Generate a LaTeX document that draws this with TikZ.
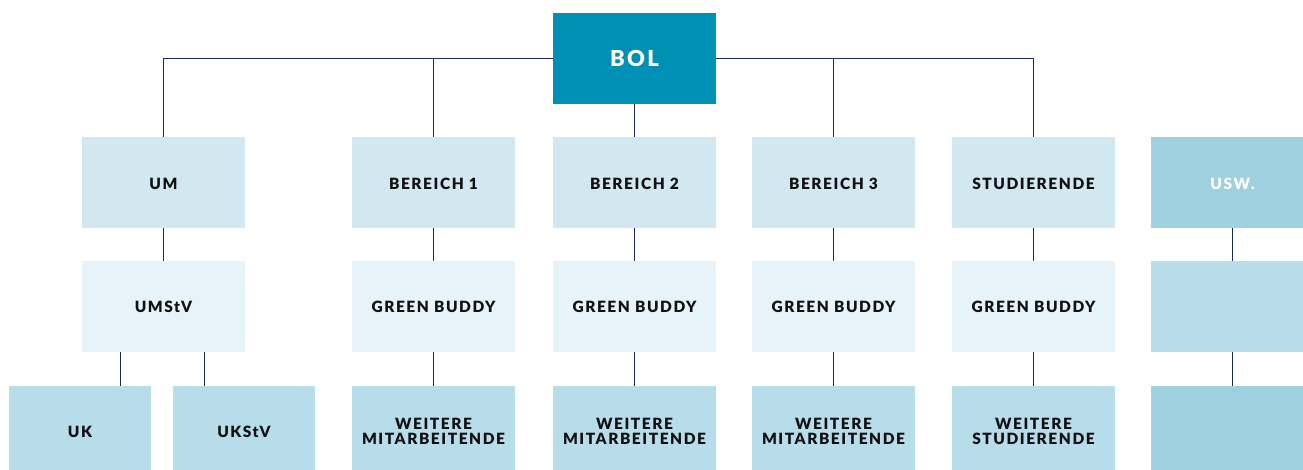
\documentclass[tikz,border=0pt]{standalone}
\usepackage{fontspec}
\setmainfont{Lato}[LetterSpace=10, BoldFont={Lato Black}]
\definecolor{bolc}{RGB}{0,144,181}
\definecolor{rowa}{RGB}{210,232,240}
\definecolor{rowb}{RGB}{230,243,248}
\definecolor{rowc}{RGB}{184,221,234}
\definecolor{uswc}{RGB}{159,208,224}
\definecolor{linec}{RGB}{28,42,88}
\definecolor{txt}{RGB}{17,17,17}
\tikzset{
  box/.style={inner sep=0pt, minimum width=163pt, minimum height=91pt, align=center,
    font=\fontsize{15.5}{15.5}\selectfont\bfseries, text=txt},
  boxa/.style={box, fill=rowa, text height=15pt, text depth=0pt},
  boxb/.style={box, fill=rowb},
  boxc/.style={box, fill=rowc},
  boxu/.style={box, fill=uswc, text=white},
  small/.style={minimum width=142pt},
  conn/.style={draw=linec, line width=1pt}
}
\begin{document}
\begin{tikzpicture}[x=1pt,y=-1pt]
\useasboundingbox (0,0) rectangle (1303,470);
\clip (0,0) rectangle (1303,470);
% top
\node[box, fill=bolc, text=white, font=\fontsize{22}{22}\selectfont\bfseries] (BOL) at (634.5,58.5) {BOL};
% row 1
\node[boxa] (UM) at (163.5,182.5) {UM};
\node[boxa] (B1) at (433.5,182.5) {BEREICH 1};
\node[boxa] (B2) at (634.5,182.5) {BEREICH 2};
\node[boxa] (B3) at (833.5,182.5) {BEREICH 3};
\node[boxa] (ST) at (1033.5,182.5) {STUDIERENDE};
\node[boxu, text height=15pt, text depth=0pt] (U1) at (1232.5,182.5) {USW.};
% row 2
\node[boxb] (UMS) at (163.5,306.5) {UMStV};
\node[boxb] (G1) at (433.5,306.5) {GREEN BUDDY};
\node[boxb] (G2) at (634.5,306.5) {GREEN BUDDY};
\node[boxb] (G3) at (833.5,306.5) {GREEN BUDDY};
\node[boxb] (G4) at (1033.5,306.5) {GREEN BUDDY};
\node[boxc] (U2) at (1232.5,306.5) {};
% row 3
\node[boxc, small] (UK) at (80,431.5) {UK};
\node[boxc, small] (UKS) at (244,431.5) {UKStV};
\node[boxc] (W1) at (433.5,431.5) {WEITERE\\MITARBEITENDE};
\node[boxc] (W2) at (634.5,431.5) {WEITERE\\MITARBEITENDE};
\node[boxc] (W3) at (833.5,431.5) {WEITERE\\MITARBEITENDE};
\node[boxc] (W4) at (1033.5,431.5) {WEITERE\\STUDIERENDE};
\node[boxu] (U3) at (1232.5,431.5) {};
% connectors
\draw[conn] (UM.north) |- (BOL.west);
\draw[conn] (B1.north) -- (B1.north |- BOL.west);
\draw[conn] (ST.north) |- (BOL.east);
\draw[conn] (B3.north) -- (B3.north |- BOL.east);
\draw[conn] (BOL.south) -- (B2.north);
\draw[conn] (UM.south) -- (UMS.north);
\foreach \a/\b in {B1/G1,B2/G2,B3/G3,ST/G4,U1/U2,G1/W1,G2/W2,G3/W3,G4/W4,U2/U3}
  \draw[conn] (\a.south) -- (\b.north);
\draw[conn] ([xshift=40pt]UK.north) -- ([xshift=40pt]UK.north |- UMS.south);
\draw[conn] ([xshift=-40pt]UKS.north) -- ([xshift=-40pt]UKS.north |- UMS.south);
\end{tikzpicture}
\end{document}
